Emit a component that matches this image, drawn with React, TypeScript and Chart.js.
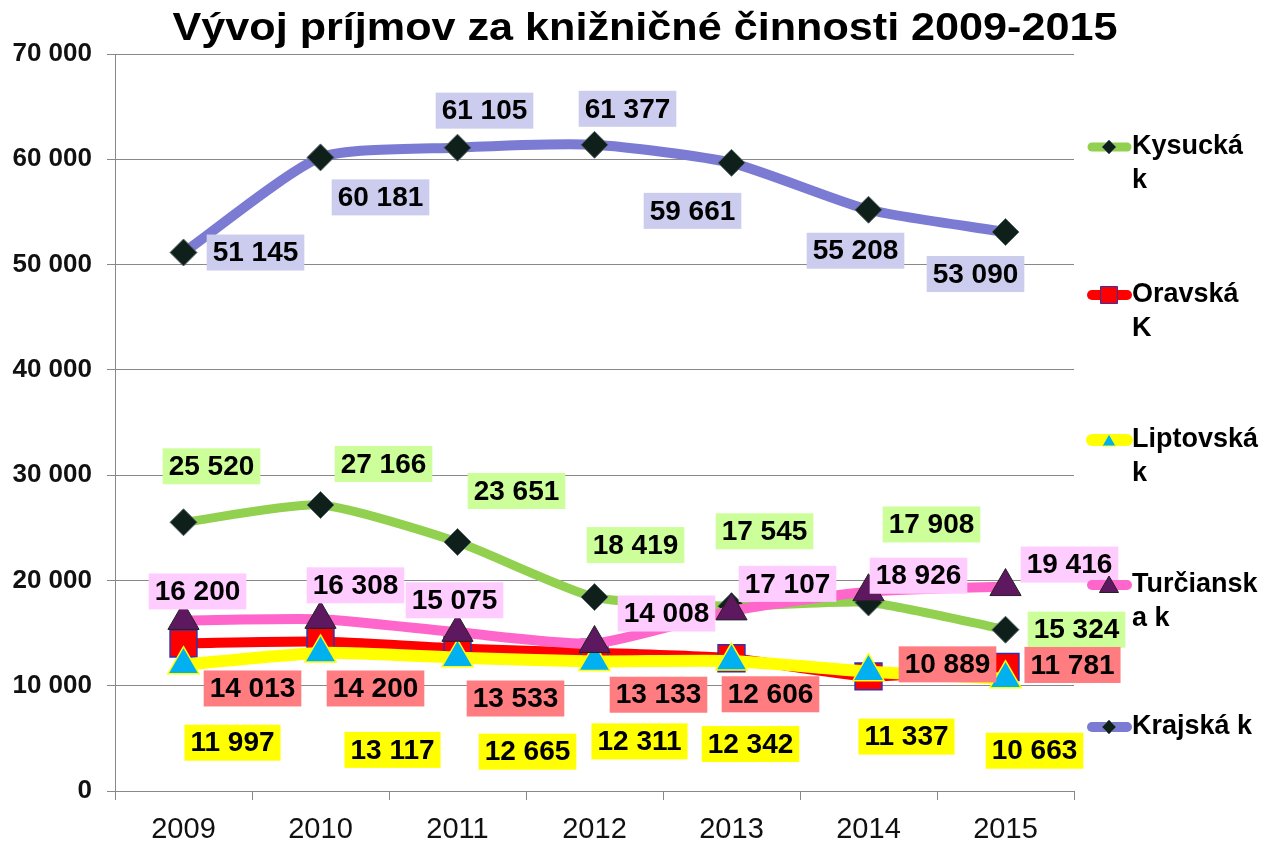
import React, { useEffect, useRef } from "react";
import { Chart, registerables } from "chart.js";
import { drawPoint } from "chart.js/helpers";

Chart.register(...registerables);

const years = ["2009", "2010", "2011", "2012", "2013", "2014", "2015"];
const kysucka = [25520, 27166, 23651, 18419, 17545, 17908, 15324];
const oravska = [14013, 14200, 13533, 13133, 12606, 10889, 11781];
const liptovska = [11997, 13117, 12665, 12311, 12342, 11337, 10663];
const turcianska = [16200, 16308, 15075, 14008, 17107, 18926, 19416];
const krajska = [51145, 60181, 61105, 61377, 59661, 55208, 53090];
const yTicks = [0, 10000, 20000, 30000, 40000, 50000, 60000, 70000];

const TITLE = "Vývoj príjmov za knižničné činnosti 2009-2015";
const FONT = "'Liberation Sans', Arial, sans-serif";

// label placement relative to each point (layout, in px)
const offKysucka = [[28, -56], [63, -41], [59, -51], [41, -52], [33, -75], [63, -78], [71, 0]];
const offOravska = [[69, 45], [55, 47], [58, 50], [64, 42], [39, 36], [79, -12], [67, -2]];
const offLiptovska = [[49, 78], [72, 97], [70, 94], [45, 80], [19, 83], [38, 65], [29, 72]];
const offTurcianska = [[14, -29], [35, -34], [-3, -32], [72, -30], [56, -27], [50, -16], [64, -22]];
const offKrajska = [[72, 0], [60, 40], [27, -37], [33, -36], [-39, 48], [-13, 41], [-30, 42]];

const fmt = (v: number) => String(v).replace(/\B(?=(\d{3})+(?!\d))/g, " ");

const series = [
  { name: ["Kysucká", "k"], data: kysucka, color: "#92D050", width: 9, style: "rectRot", radius: 13.5, fill: "#0F201B", border: "#5a6a70", bw: 1, labelBg: "#CCFF99", off: offKysucka, legendY: 147, order: 5, lr: 7 },
  { name: ["Oravská", "K"], data: oravska, color: "#FF0000", width: 10, style: "rect", radius: 19, fill: "#FF0000", border: "#3030B0", bw: 1.5, labelBg: "#FF7C80", off: offOravska, legendY: 295, order: 4, lr: 12 },
  { name: ["Liptovská", "k"], data: liptovska, color: "#FFFF00", width: 12, style: "triangle", radius: 18, fill: "#00B0F0", border: "#FFFF00", bw: 1.5, labelBg: "#FFFF00", off: offLiptovska, legendY: 440, order: 3, lr: 8 },
  { name: ["Turčiansk", "a k"], data: turcianska, color: "#FF66CC", width: 10, style: "triangle", radius: 18, fill: "#5E1860", border: "#222222", bw: 1, labelBg: "#FFCCFF", off: offTurcianska, legendY: 585, order: 2, lr: 11 },
  { name: ["Krajská k"], data: krajska, color: "#7B7BD3", width: 10, style: "rectRot", radius: 13.5, fill: "#0F201B", border: "#5a6a70", bw: 1, labelBg: "#CCCCEE", off: offKrajska, legendY: 727, order: 1, lr: 7 },
];

const decorPlugin = {
  id: "decor",
  afterDatasetsDraw(chart: any) {
    const ctx = chart.ctx as CanvasRenderingContext2D;
    ctx.save();
    ctx.font = `bold 28px ${FONT}`;
    ctx.textAlign = "center";
    ctx.textBaseline = "middle";
    series.forEach((s, di) => {
      const meta = chart.getDatasetMeta(di);
      meta.data.forEach((pt: any, i: number) => {
        const txt = fmt(s.data[i]);
        const cx = pt.x + s.off[i][0];
        const cy = pt.y + s.off[i][1];
        const w = ctx.measureText(txt).width + 12;
        const h = 36;
        ctx.fillStyle = s.labelBg;
        ctx.fillRect(cx - w / 2, cy - h / 2, w, h);
        ctx.fillStyle = "#000";
        ctx.fillText(txt, cx, cy + 1);
      });
    });
    ctx.restore();
  },
  afterDraw(chart: any) {
    const ctx = chart.ctx as CanvasRenderingContext2D;
    ctx.save();
    ctx.font = `bold 38px ${FONT}`;
    ctx.fillStyle = "#000";
    ctx.textAlign = "center";
    ctx.textBaseline = "middle";
    const tw = ctx.measureText(TITLE).width;
    const sx = 945 / tw;
    ctx.save();
    ctx.translate(645, 30);
    ctx.scale(sx, 1);
    ctx.fillText(TITLE, 0, 0);
    ctx.restore();
    series.forEach((s) => {
      const y = s.legendY;
      ctx.strokeStyle = s.color;
      ctx.lineWidth = s.width;
      ctx.lineCap = "round";
      ctx.beginPath();
      ctx.moveTo(1092, y);
      ctx.lineTo(1127, y);
      ctx.stroke();
      ctx.lineCap = "butt";
      ctx.fillStyle = s.fill;
      ctx.strokeStyle = s.border;
      ctx.lineWidth = 1;
      drawPoint(ctx, { pointStyle: s.style as any, radius: s.lr, rotation: 0, borderWidth: 1 } as any, 1109, y + (s.style === "triangle" ? 2 : 0));
      ctx.fillStyle = "#000";
      ctx.font = `bold 27px ${FONT}`;
      ctx.textAlign = "left";
      s.name.forEach((line, li) => {
        ctx.fillText(line, 1132, y + li * 34);
      });
    });
    ctx.restore();
  },
};

export default function App() {
  const ref = useRef<HTMLCanvasElement>(null);
  useEffect(() => {
    if (!ref.current) return;
    const chart = new Chart(ref.current, {
      type: "line",
      data: {
        labels: years,
        datasets: series.map((s) => ({
          label: s.name.join(" "),
          data: s.data,
          borderColor: s.color,
          backgroundColor: s.color,
          borderWidth: s.width,
          tension: 0.2,
          pointStyle: s.style as any,
          pointRadius: s.radius,
          pointBackgroundColor: s.fill,
          pointBorderColor: s.border,
          pointBorderWidth: s.bw,
          order: s.order,
          fill: false,
        })),
      },
      options: {
        animation: false,
        responsive: false,
        layout: { padding: { top: 54, right: 200, left: 0, bottom: 0 } },
        plugins: {
          legend: { display: false },
          title: { display: false },
          tooltip: { enabled: false },
        },
        scales: {
          x: {
            offset: true,
            grid: { display: true, offset: true, drawOnChartArea: false, drawTicks: true, tickLength: 9, color: "#888", lineWidth: 1 },
            border: { display: true, color: "#888", width: 1 },
            ticks: { color: "#111", font: { family: FONT, size: 29 }, padding: 13, maxRotation: 0 },
            afterFit: (scale: any) => { scale.height = 53; },
          },
          y: {
            min: 0,
            max: 70000,
            afterBuildTicks: (scale: any) => { scale.ticks = yTicks.map((v) => ({ value: v })); },
            grid: { color: "#888", lineWidth: 1, tickLength: 8 },
            border: { display: true, color: "#888", width: 1 },
            ticks: { color: "#111", font: { family: FONT, size: 26, weight: "bold" }, padding: 15, callback: (v: any) => fmt(Number(v)) },
            afterFit: (scale: any) => { scale.width = 115; },
          },
        },
      },
      plugins: [decorPlugin],
    });
    return () => chart.destroy();
  }, []);
  return (
    <div style={{ position: "fixed", left: 0, top: 0, width: 1274, height: 844, background: "#fff" }}>
      <canvas ref={ref} width={1274} height={844} style={{ width: 1274, height: 844 }} />
    </div>
  );
}
